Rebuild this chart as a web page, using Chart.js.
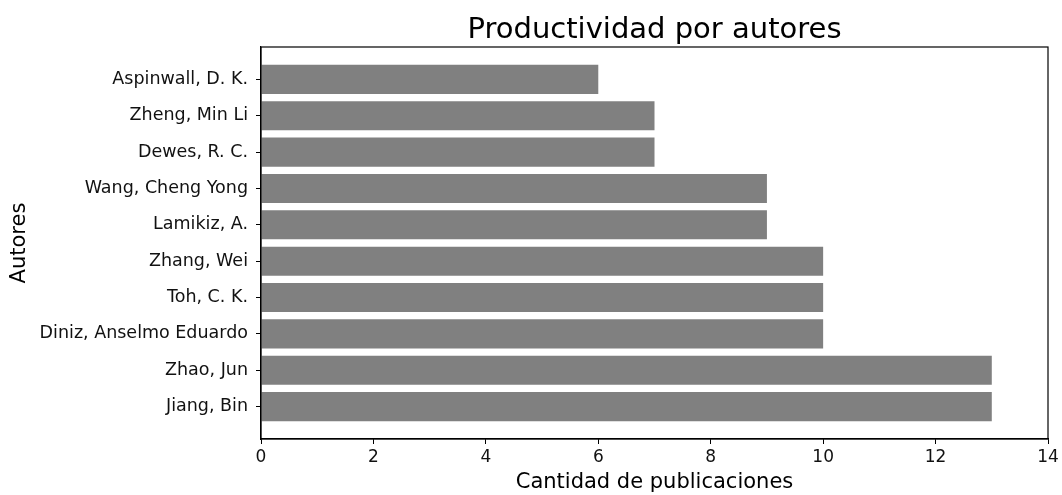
<!DOCTYPE html>
<html>
<head>
<meta charset="utf-8">
<script src="https://cdn.jsdelivr.net/npm/chart.js@4"></script>
<style>
  html, body { margin: 0; padding: 0; background: #fff; }
  #wrap { width: 1062px; height: 495px; }
</style>
</head>
<body>
<div id="wrap"><canvas id="autores"></canvas></div>
<script>
// authors listed top to bottom, as in the picture
var autores = ['Aspinwall, D. K.', 'Zheng, Min Li', 'Dewes, R. C.', 'Wang, Cheng Yong', 'Lamikiz, A.',
    'Zhang, Wei', 'Toh, C. K.', 'Diniz, Anselmo Eduardo', 'Zhao, Jun', 'Jiang, Bin'];
var publicaciones = [6, 7, 7, 9, 9, 10, 10, 10, 13, 13];
var xTicks = [0, 2, 4, 6, 8, 10, 12, 14];

var FONT = "'DejaVu Sans', sans-serif";

var puntos = autores.map(function(a, i) {
    return { y: i, x: publicaciones[i] };
});

// frame around the plot and title centred over it
var marco = {
    id: 'marco',
    afterDraw: function(chart) {
        var c = chart.ctx, a = chart.chartArea;
        c.save();
        c.strokeStyle = '#000';
        c.lineWidth = 1.2;
        c.strokeRect(a.left, a.top, a.right - a.left, a.bottom - a.top);
        c.fillStyle = '#000';
        c.font = '29px ' + FONT;
        c.textAlign = 'center';
        c.textBaseline = 'alphabetic';
        c.fillText('Productividad por autores', (a.left + a.right) / 2, 38);
        c.restore();
    }
};

var ctx = document.getElementById('autores').getContext('2d');
var chart = new Chart(ctx, {
    type: 'bar',
    data: {
        datasets: [{
            data: puntos,
            backgroundColor: '#808080',
            borderWidth: 0,
            barPercentage: 0.8,
            categoryPercentage: 1.0
        }]
    },
    options: {
        indexAxis: 'y',
        responsive: true,
        maintainAspectRatio: false,
        animation: false,
        layout: { padding: { left: 7, right: 14, top: 47, bottom: 0 } },
        plugins: { legend: { display: false }, tooltip: { enabled: false }, title: { display: false } },
        scales: {
            y: {
                type: 'linear',
                min: -0.89,
                max: 9.89,
                reverse: true,
                offset: false,
                afterBuildTicks: function(scale) {
                    scale.ticks = autores.map(function(a, i) { return { value: i }; });
                },
                afterFit: function(scale) { scale.width = 254; },
                ticks: {
                    autoSkip: false,
                    color: '#111',
                    padding: 8,
                    font: { family: FONT, size: 17.5 },
                    callback: function(v) { return autores[v]; }
                },
                grid: { offset: false, drawOnChartArea: false, drawTicks: true, tickLength: 5, color: '#000' },
                border: { display: true, color: '#000', width: 1.2 },
                title: { display: true, text: 'Autores', color: '#000', font: { family: FONT, size: 21 }, padding: 0 }
            },
            x: {
                min: 0,
                max: 14,
                afterBuildTicks: function(scale) {
                    scale.ticks = xTicks.map(function(v) { return { value: v }; });
                },
                afterFit: function(scale) { scale.height = 56; },
                ticks: { color: '#111', padding: 3, font: { family: FONT, size: 17 } },
                grid: { drawOnChartArea: false, drawTicks: true, tickLength: 5, color: '#000' },
                border: { display: true, color: '#000', width: 1.2 },
                title: { display: true, text: 'Cantidad de publicaciones', color: '#000', font: { family: FONT, size: 21 }, padding: 0 }
            }
        }
    },
    plugins: [marco]
});
</script>
</body>
</html>
